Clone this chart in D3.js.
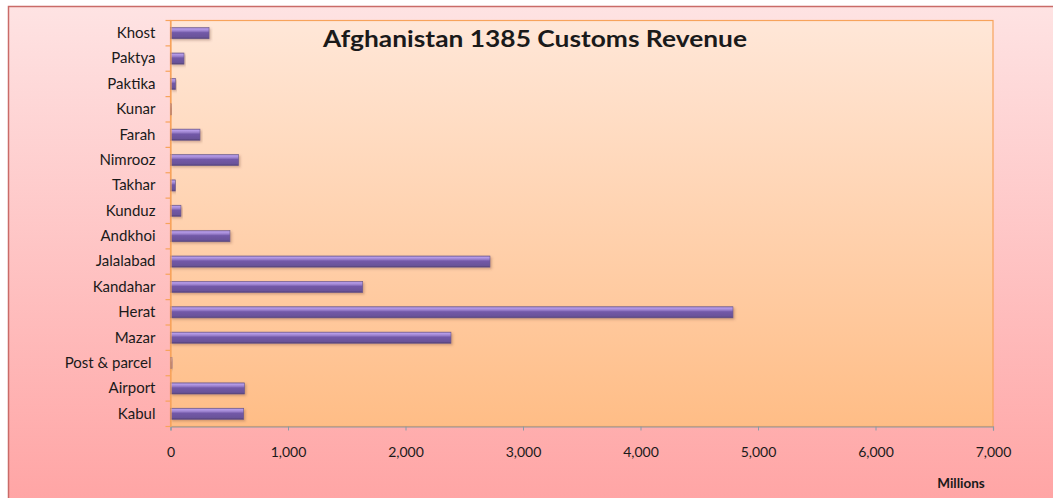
<!DOCTYPE html>
<html>
<head>
<meta charset="utf-8">
<script src="https://cdn.jsdelivr.net/npm/d3@7"></script>
<style>
  body { margin: 0; background: #fff; }
  svg text { font-family: Lato, "Open Sans", sans-serif; fill: #1a1a1a; }
</style>
</head>
<body>
<div class="chart"></div>
<script>
const categories = ['Khost', 'Paktya', 'Paktika', 'Kunar', 'Farah', 'Nimrooz', 'Takhar', 'Kunduz',
    'Andkhoi', 'Jalalabad', 'Kandahar', 'Herat', 'Mazar', 'Post & parcel', 'Airport', 'Kabul']
const revenue = [328, 115, 44, 10, 251, 580, 41, 89, 506, 2719, 1636, 4787, 2387, 12, 631, 623]
const xTicks = [0, 1000, 2000, 3000, 4000, 5000, 6000, 7000]

const width = 1053
const height = 498
const plot = { left: 170.5, right: 993, top: 20.5, bottom: 426.5 }

const svg = d3.select('.chart').append('svg')
    .attr('width', width)
    .attr('height', height)

const defs = svg.append('defs')

const outerGrad = defs.append('linearGradient')
    .attr('id', 'outerGrad')
    .attr('x1', 0).attr('y1', 0).attr('x2', 0).attr('y2', 1)
outerGrad.append('stop').attr('offset', '0%').attr('stop-color', '#fee3e3')
outerGrad.append('stop').attr('offset', '100%').attr('stop-color', '#ffa3a3')

const plotGrad = defs.append('linearGradient')
    .attr('id', 'plotGrad')
    .attr('x1', 0).attr('y1', 0).attr('x2', 0).attr('y2', 1)
plotGrad.append('stop').attr('offset', '0%').attr('stop-color', '#ffe7d8')
plotGrad.append('stop').attr('offset', '100%').attr('stop-color', '#ffbd86')

const barGrad = defs.append('linearGradient')
    .attr('id', 'barGrad')
    .attr('x1', 0).attr('y1', 0).attr('x2', 0).attr('y2', 1)
barGrad.append('stop').attr('offset', '0%').attr('stop-color', '#8a72b8')
barGrad.append('stop').attr('offset', '12%').attr('stop-color', '#b69ce8')
barGrad.append('stop').attr('offset', '30%').attr('stop-color', '#9a80cc')
barGrad.append('stop').attr('offset', '45%').attr('stop-color', '#7259a8')
barGrad.append('stop').attr('offset', '85%').attr('stop-color', '#6a5399')
barGrad.append('stop').attr('offset', '100%').attr('stop-color', '#4f3d73')

const shadow = defs.append('filter').attr('id', 'shadow')
    .attr('x', '-5%').attr('y', '-30%').attr('width', '115%').attr('height', '180%')
shadow.append('feDropShadow')
    .attr('dx', 1.5).attr('dy', 1.5).attr('stdDeviation', 1)
    .attr('flood-color', '#7a4a3a').attr('flood-opacity', 0.35)

// chart area
svg.append('rect')
    .attr('x', 8.5).attr('y', 6.5)
    .attr('width', width + 10).attr('height', height + 10)
    .attr('fill', 'url(#outerGrad)')
    .attr('stroke', '#c96b68')
    .attr('stroke-width', 1.5)

// plot area
svg.append('rect')
    .attr('x', plot.left).attr('y', plot.top)
    .attr('width', plot.right - plot.left).attr('height', plot.bottom - plot.top)
    .attr('fill', 'url(#plotGrad)')
    .attr('stroke', '#f7a35c')
    .attr('stroke-width', 1.2)

const x = d3.scaleLinear()
    .domain([0, 7000])
    .range([plot.left, plot.right])

const y = d3.scaleBand()
    .domain(categories)
    .range([plot.top, plot.bottom])
    .paddingInner(0.56)
    .paddingOuter(0.28)

// bars
svg.append('g')
    .selectAll('rect')
    .data(revenue)
    .enter()
    .append('rect')
    .attr('x', x(0))
    .attr('y', (d, i) => y(categories[i]))
    .attr('width', d => Math.max(1, x(d) - x(0)))
    .attr('height', y.bandwidth())
    .attr('fill', 'url(#barGrad)')
    .attr('stroke', '#6b5a8a')
    .attr('stroke-width', 0.6)
    .attr('filter', 'url(#shadow)')

// x axis
const xAxis = svg.append('g')
    .attr('transform', `translate(0,${plot.bottom})`)
    .call(d3.axisBottom(x).tickValues(xTicks).tickSize(4).tickPadding(17).tickFormat(d3.format(',')))
xAxis.select('.domain').attr('stroke', '#8a9aa6').attr('stroke-width', 1.2)
xAxis.selectAll('.tick line').attr('stroke', '#8a9aa6')
xAxis.selectAll('.tick text')
    .style('font-size', '14px')
    .style('font-family', 'Lato, sans-serif')
    .attr('fill', '#1a1a1a')

// y axis
const yAxis = svg.append('g')
    .attr('transform', `translate(${plot.left},0)`)
    .call(d3.axisLeft(y).tickSize(0).tickPadding(15))
yAxis.select('.domain').attr('stroke', '#f7a35c').attr('stroke-width', 1.2)
yAxis.selectAll('.tick text')
    .style('font-size', '15px')
    .style('font-family', 'Lato, sans-serif')
    .attr('fill', '#1a1a1a')
yAxis.select('.tick:nth-child(15) text').attr('dx', -4)

// category boundary ticks
svg.append('g')
    .selectAll('line')
    .data(categories.concat(['end']))
    .enter()
    .append('line')
    .attr('x1', plot.left - 5).attr('x2', plot.left)
    .attr('y1', (d, i) => plot.top + i * (plot.bottom - plot.top) / categories.length)
    .attr('y2', (d, i) => plot.top + i * (plot.bottom - plot.top) / categories.length)
    .attr('stroke', '#f7a35c')
    .attr('stroke-width', 1.2)

// title
svg.append('text')
    .attr('x', 535).attr('y', 47)
    .attr('text-anchor', 'middle')
    .attr('textLength', 424)
    .attr('lengthAdjust', 'spacingAndGlyphs')
    .style('font-size', '22px')
    .style('font-weight', 'bold')
    .attr('fill', '#000')
    .text('Afghanistan 1385 Customs Revenue')

// unit label
svg.append('text')
    .attr('x', 961).attr('y', 488)
    .attr('text-anchor', 'middle')
    .style('font-size', '13.5px')
    .style('font-weight', 'bold')
    .attr('fill', '#000')
    .text('Millions')
</script>
</body>
</html>
